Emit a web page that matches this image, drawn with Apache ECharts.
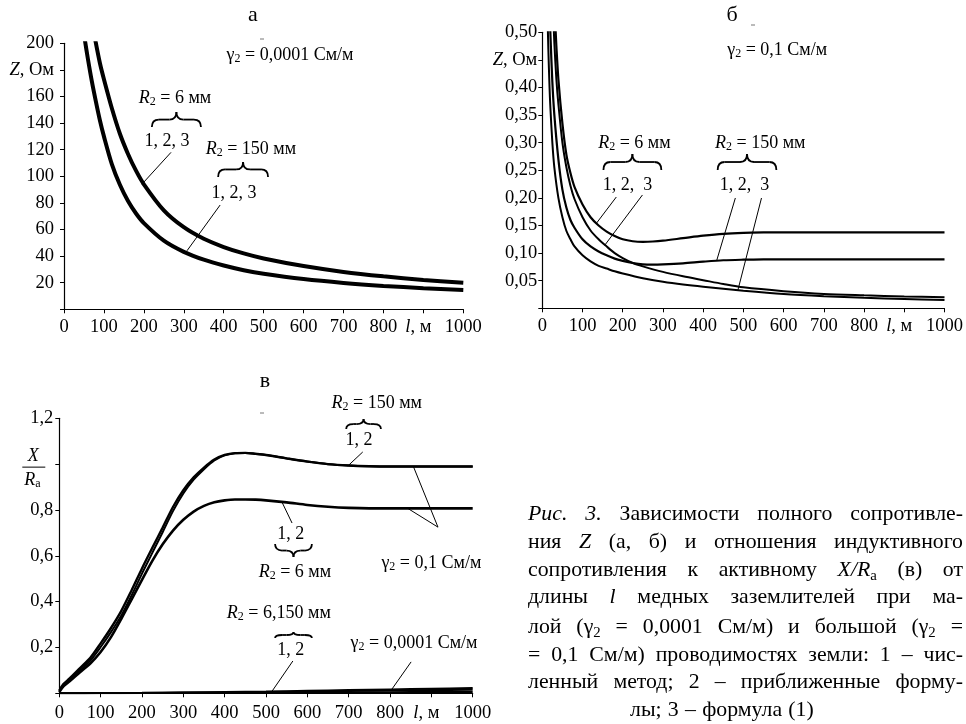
<!DOCTYPE html>
<html lang="ru"><head><meta charset="utf-8"><title>Рис. 3</title>
<script src="https://cdn.jsdelivr.net/npm/echarts@6.0.0/dist/echarts.min.js"></script>
<style>html,body{margin:0;padding:0;background:#fff;}#chart{width:966px;height:724px;}</style>
</head><body><div id="chart"></div>
<script>
// ================= DATA =================
const lengthTicks = [0, 100, 200, 300, 400, 500, 600, 700, 800, 900, 1000];

// (а) γ2 = 0,0001 См/м — Z, Ом (curves 1,2,3 coincide)
const aLenR6   = [78, 90, 100, 120, 140, 160, 180, 200, 250, 300, 350, 400, 450, 500, 600, 700, 800, 900, 1000];
const aZR6     = [203, 185, 173, 151, 132, 117, 104.4, 94, 74.4, 61.7, 53, 46.8, 42, 38.2, 32.5, 28.1, 24.8, 22.1, 20];
const aLenR150 = [52, 60, 70, 80, 90, 100, 120, 140, 160, 180, 200, 250, 300, 350, 400, 450, 500, 600, 700, 800, 900, 1000];
const aZR150   = [203, 188, 171, 156, 142, 130, 109, 93.6, 81.6, 72.2, 64.8, 51.6, 43.2, 37.3, 32.9, 29.4, 26.7, 22.7, 19.8, 17.6, 15.9, 14.5];

// (б) γ2 = 0,1 См/м — Z, Ом
const bLenR6num   = [32, 35, 40, 50, 60, 70, 80, 100, 120, 140, 160, 180, 200, 225, 250, 275, 300, 350, 400, 450, 500, 550, 600, 700, 800, 900, 1000];
const bZR6num     = [0.52, 0.475, 0.415, 0.335, 0.278, 0.245, 0.22, 0.188, 0.165, 0.150, 0.139, 0.131, 0.125, 0.1215, 0.1205, 0.121, 0.1225, 0.127, 0.1315, 0.135, 0.1368, 0.1375, 0.1377, 0.1377, 0.1377, 0.1377, 0.1377];
const bLenR6f1    = [27, 30, 35, 40, 50, 60, 70, 80, 100, 120, 140, 160, 180, 200, 225, 250, 300, 350, 400, 450, 500, 600, 700, 800, 900, 1000];
const bZR6f1      = [0.535, 0.48, 0.415, 0.37, 0.30, 0.255, 0.222, 0.198, 0.165, 0.141, 0.125, 0.112, 0.100, 0.091, 0.082, 0.076, 0.066, 0.058, 0.051, 0.044, 0.038, 0.031, 0.026, 0.0235, 0.0215, 0.020];
const bLenR150num = [19, 20, 25, 30, 40, 50, 60, 70, 80, 100, 120, 140, 160, 180, 200, 225, 250, 275, 300, 350, 400, 450, 500, 550, 600, 700, 800, 900, 1000];
const bZR150num   = [0.53, 0.50, 0.41, 0.35, 0.27, 0.215, 0.182, 0.16, 0.146, 0.125, 0.112, 0.103, 0.096, 0.090, 0.086, 0.082, 0.0795, 0.079, 0.0795, 0.0815, 0.0845, 0.087, 0.088, 0.0885, 0.0888, 0.0888, 0.0888, 0.0888, 0.0888];
const bLenR150f1  = [13, 15, 18, 20, 25, 30, 40, 50, 60, 70, 80, 100, 120, 140, 160, 180, 200, 250, 300, 350, 400, 500, 600, 700, 800, 900, 1000];
const bZR150f1    = [0.53, 0.47, 0.40, 0.365, 0.30, 0.255, 0.20, 0.165, 0.14, 0.125, 0.112, 0.096, 0.085, 0.077, 0.072, 0.067, 0.063, 0.0545, 0.048, 0.043, 0.039, 0.032, 0.026, 0.022, 0.019, 0.017, 0.015];

// (в) X/Ra
const vLen       = [0, 10, 25, 50, 75, 100, 125, 150, 175, 200, 225, 250, 275, 300, 325, 350, 375, 400, 425, 450, 475, 500, 550, 600, 650, 700, 750, 800, 900, 1000];
const vR150m1    = [0.012, 0.04, 0.065, 0.11, 0.155, 0.218, 0.285, 0.36, 0.45, 0.545, 0.635, 0.723, 0.813, 0.886, 0.942, 0.985, 1.02, 1.04, 1.048, 1.049, 1.045, 1.04, 1.025, 1.011, 1.0, 0.994, 0.991, 0.99, 0.99, 0.99];
const vR150m2    = [0.01, 0.035, 0.058, 0.1, 0.143, 0.202, 0.267, 0.34, 0.428, 0.522, 0.613, 0.703, 0.795, 0.872, 0.932, 0.978, 1.016, 1.038, 1.047, 1.049, 1.045, 1.04, 1.025, 1.011, 1.0, 0.994, 0.991, 0.99, 0.99, 0.99];
const vR6        = [0.005, 0.03, 0.052, 0.092, 0.13, 0.18, 0.245, 0.325, 0.41, 0.495, 0.578, 0.65, 0.71, 0.757, 0.793, 0.818, 0.834, 0.842, 0.846, 0.846, 0.845, 0.842, 0.833, 0.822, 0.814, 0.809, 0.807, 0.807, 0.807, 0.807];
const vLenLow    = [0, 100, 200, 300, 400, 500, 600, 700, 800, 900, 1000];
const vLowR150   = [0, 0.001, 0.002, 0.004, 0.006, 0.008, 0.011, 0.014, 0.017, 0.020, 0.023];
const vLowMid    = [0, 0.0008, 0.0016, 0.003, 0.004, 0.006, 0.008, 0.010, 0.012, 0.014, 0.016];
const vLowR6     = [0, 0.0004, 0.0008, 0.0015, 0.002, 0.003, 0.0035, 0.004, 0.005, 0.0055, 0.006];

// ================= CHART =================
const FONT = '"Liberation Serif", "Times New Roman", serif';
const chart = echarts.init(document.getElementById('chart'));
const zip = (xs, ys) => xs.map((x, i) => [x, ys[i]]);
const fmtComma = (v, d) => v.toFixed(d).replace('.', ',');
const labelRich = {
  i: {fontFamily: FONT, fontSize: 18.5, fontStyle: 'italic', color: '#000'},
  n: {fontFamily: FONT, fontSize: 18.5, color: '#000'},
  m: {fontFamily: FONT, fontSize: 18.5, color: '#000', padding: [0, 10, 0, 0]}
};
function axisBase(extra) {
  return Object.assign({
    type: 'value',
    axisLine: {show: true, onZero: false, lineStyle: {color: '#000', width: 1.2}},
    axisTick: {show: true, length: 4, lineStyle: {color: '#000', width: 1}},
    splitLine: {show: false}
  }, extra);
}
function xAxisFor(gi, margin) {
  return axisBase({
    gridIndex: gi, min: 0, max: 1000, interval: 100,
    axisLabel: {margin: margin, fontFamily: FONT, fontSize: 18.5, color: '#000', rich: labelRich,
      formatter: v => v === lengthTicks[9] ? '{i|l}{m|, м}' : String(v)}
  });
}
function line(gi, xs, ys, w) {
  return {type: 'line', xAxisIndex: gi, yAxisIndex: gi, data: zip(xs, ys), symbol: 'none', showSymbol: false,
    smooth: 0.3, silent: true, clip: true, lineStyle: {color: '#000', width: w}};
}

const option = {
  animation: false,
  backgroundColor: '#fff',
  grid: [
    {left: 64, top: 43.3, width: 399.3, height: 266},
    {left: 542.3, top: 32.3, width: 405, height: 276},
    {left: 59.3, top: 418.3, width: 413.4, height: 275}
  ],
  xAxis: [xAxisFor(0, 8), xAxisFor(1, 8), xAxisFor(2, 10)],
  yAxis: [
    axisBase({gridIndex: 0, min: 0, max: 200, interval: 20,
      axisLabel: {margin: 10, fontFamily: FONT, fontSize: 18.5, color: '#000', rich: labelRich,
        formatter: v => v === 0 ? '' : (v === 180 ? '{i|Z}{n|, Ом}' : String(v))}}),
    axisBase({gridIndex: 1, min: 0, max: 0.5, interval: 0.05,
      axisLabel: {margin: 5, fontFamily: FONT, fontSize: 18.5, color: '#000', rich: labelRich,
        formatter: v => v < 1e-9 ? '' : (Math.abs(v - 0.45) < 1e-6 ? '{i|Z}{n|, Ом}' : fmtComma(v, 2))}}),
    axisBase({gridIndex: 2, min: 0, max: 1.2, interval: 0.2,
      axisLabel: {margin: 6, fontFamily: FONT, fontSize: 18.5, color: '#000',
        formatter: v => (v < 1e-9 || Math.abs(v - 1) < 1e-6) ? '' : fmtComma(v, 1)}})
  ],
  series: [
    line(0, aLenR6, aZR6, 4),
    line(0, aLenR150, aZR150, 4),
    line(1, bLenR6num, bZR6num, 2.2),
    line(1, bLenR6f1, bZR6f1, 2),
    line(1, bLenR150num, bZR150num, 2.2),
    line(1, bLenR150f1, bZR150f1, 2),
    line(2, vLen, vR150m1, 2.4),
    line(2, vLen, vR150m2, 2),
    line(2, vLen, vR6, 2.6),
    line(2, vLenLow, vLowR150, 2),
    line(2, vLenLow, vLowMid, 2),
    line(2, vLenLow, vLowR6, 2)
  ]
};
chart.setOption(option);

// ================= ANNOTATIONS (anchored in data coordinates) =================
const annotations = [
  {grid: 0,
   texts: [['{n|γ}{s|2}{n| = 0,0001 См/м}', 566, 191], ['{i|R}{s|2}{n| = 6 мм}', 278, 159], ['{n|1, 2, 3}', 258, 126.5],
           ['{i|R}{s|2}{n| = 150 мм}', 468, 120.5], ['{n|1, 2, 3}', 426, 87.4]],
   braces: [[220, 343, 148.3, 137], [386, 511, 110.8, 99.5]],
   leaders: [[268, 118, 195, 94], [391, 78.4, 308, 44]]},
  {grid: 1,
   texts: [['{n|γ}{s|2}{n| = 0,1 См/м}', 584, 0.468], ['{i|R}{s|2}{n| = 6 мм}', 229, 0.2995], ['{n|1, 2,  3}', 212, 0.2234],
           ['{i|R}{s|2}{n| = 150 мм}', 542, 0.2995], ['{n|1, 2,  3}', 503, 0.2234]],
   braces: [[152, 296, 0.2795, 0.2505], [436, 582, 0.2795, 0.2505]],
   leaders: [[184, 0.2016, 135, 0.1545], [249, 0.2053, 155, 0.114], [480, 0.1998, 434, 0.0875], [545, 0.1998, 486, 0.032]]},
  {grid: 2,
   texts: [['{i|R}{s|2}{n| = 150 мм}', 768, 1.267], ['{n|1, 2}', 725, 1.106], ['{n|1, 2}', 560, 0.695],
           ['{i|R}{s|2}{n| = 6 мм}', 570, 0.529], ['{n|γ}{s|2}{n| = 0,1 См/м}', 900, 0.568],
           ['{i|R}{s|2}{n| = 6,150 мм}', 531, 0.349], ['{n|1, 2}', 560, 0.189], ['{n|γ}{s|2}{n| = 0,0001 См/м}', 858, 0.22]],
   braces: [[694, 778, 1.197, 1.153], [522, 611, 0.595, 0.651], [522, 611, 0.2675, 0.2413]],
   leaders: [[734, 1.053, 698, 0.992], [563, 0.743, 539, 0.833], [916, 0.725, 856, 0.992], [916, 0.725, 841, 0.809],
             [565, 0.141, 515, 0.01], [851, 0.137, 803, 0.014]]}
];

const RICH_T = {
  n: {fontFamily: FONT, fontSize: 18, fill: '#000'},
  i: {fontFamily: FONT, fontSize: 18, fontStyle: 'italic', fill: '#000'},
  s: {fontFamily: FONT, fontSize: 12, fill: '#000', padding: [8, 0, 0, 0]}
};
function textEl(x, y, text, extra) {
  return {type: 'text', x: x, y: y, silent: true,
    style: Object.assign({text: text, rich: RICH_T, align: 'center', verticalAlign: 'middle',
      textAlign: 'center', textVerticalAlign: 'middle', fill: '#000', fontFamily: FONT, fontSize: 18}, extra || {})};
}
function braceEls(x1, x2, yT, yE, lw) {
  const xm = (x1 + x2) / 2, ym = (yT + yE) / 2, r = Math.min(7, (x2 - x1) / 5);
  const st = {stroke: '#000', lineWidth: lw, fill: 'none'};
  const q = (ax, ay, cx, cy, bx, by) => ({type: 'bezierCurve', silent: true, shape: {x1: ax, y1: ay, cpx1: cx, cpy1: cy, x2: bx, y2: by}, style: st});
  const l = (ax, ay, bx, by) => ({type: 'line', silent: true, shape: {x1: ax, y1: ay, x2: bx, y2: by}, style: st});
  return [q(x1, yE, x1, ym, x1 + r, ym), l(x1 + r, ym, xm - r, ym), q(xm - r, ym, xm, ym, xm, yT),
          q(xm, yT, xm, ym, xm + r, ym), l(xm + r, ym, x2 - r, ym), q(x2 - r, ym, x2, ym, x2, yE)];
}

const elements = [];
annotations.forEach(a => {
  const P = (x, y) => chart.convertToPixel({gridIndex: a.grid}, [x, y]);
  a.texts.forEach(t => { const p = P(t[1], t[2]); elements.push(textEl(p[0], p[1], t[0])); });
  a.braces.forEach(b => {
    const p1 = P(b[0], b[2]), p2 = P(b[1], b[3]);
    braceEls(p1[0], p2[0], p1[1], p2[1], 1.8).forEach(e => elements.push(e));
  });
  a.leaders.forEach(d => {
    const p1 = P(d[0], d[1]), p2 = P(d[2], d[3]);
    elements.push({type: 'line', silent: true, shape: {x1: p1[0], y1: p1[1], x2: p2[0], y2: p2[1]}, style: {stroke: '#000', lineWidth: 1}});
  });
});

// Fraction X / Rа as the y-axis name of chart в (at value 1,0)
(function () {
  const p = chart.convertToPixel({gridIndex: 2}, [0, 1]);
  elements.push(textEl(p[0] - 26, p[1] - 8, '{i|X}'));
  elements.push({type: 'line', silent: true, shape: {x1: p[0] - 37, y1: p[1] + 3, x2: p[0] - 14, y2: p[1] + 3}, style: {stroke: '#000', lineWidth: 1}});
  elements.push(textEl(p[0] - 27, p[1] + 16, '{i|R}{s|а}'));
})();

// Panel titles
elements.push(textEl(253, 15, 'а', {fontSize: 22, rich: null}));
elements.push(textEl(732, 15, 'б', {fontSize: 22, rich: null}));
elements.push(textEl(265, 381, 'в', {fontSize: 22, rich: null}));
// small scan marks near titles
[[260, 39], [751, 25], [260, 413]].forEach(m => elements.push({type: 'line', silent: true,
  shape: {x1: m[0], y1: m[1], x2: m[0] + 4, y2: m[1]}, style: {stroke: '#777', lineWidth: 1}}));

// ================= CAPTION (justified) =================
const captionLines = [
  '*Рис.* *3.* Зависимости полного сопротивле-',
  'ния *Z* (а, б) и отношения индуктивного',
  'сопротивления к активному *X/R*_а_ (в) от',
  'длины *l* медных заземлителей при ма-',
  'лой (γ_2_ = 0,0001 См/м) и большой (γ_2_ =',
  '= 0,1 См/м) проводимостях земли: 1 – чис-',
  'ленный метод; 2 – приближенные форму-',
  'лы; 3 – формула (1)'
];
(function () {
  const X0 = 528, W = 435, ys = [514, 542, 570, 597, 627, 655, 682, 710], lastX = 630;
  const ctx = document.createElement('canvas').getContext('2d');
  const parse = w => {
    const segs = []; let it = false, sb = false, buf = '';
    for (const ch of w) {
      if (ch === '*' || ch === '_') { if (buf) { segs.push({t: buf, it, sb}); buf = ''; } if (ch === '*') it = !it; else sb = !sb; }
      else buf += ch;
    }
    if (buf) segs.push({t: buf, it, sb});
    return segs;
  };
  const fontOf = (seg, fs) => (seg.it ? 'italic ' : '') + (seg.sb ? fs * 0.68 : fs) + 'px "Liberation Serif"';
  const mw = (seg, fs) => { ctx.font = fontOf(seg, fs); return ctx.measureText(seg.t).width; };
  const words = captionLines.map(l => l.split(' ').map(parse));
  const wordW = (w, fs) => w.reduce((s, g) => s + mw(g, fs), 0);
  let fs = 21.8;
  // keep every justified line's word gap at least 0.55 of a normal space
  for (let k = 0; k < 30; k++) {
    ctx.font = fs + 'px "Liberation Serif"';
    const sp = ctx.measureText(' ').width;
    let ok = true;
    words.slice(0, 7).forEach(ws => {
      const tot = ws.reduce((s, w) => s + wordW(w, fs), 0);
      if ((W - tot) / (ws.length - 1) < sp * 0.55) ok = false;
    });
    if (ok) break;
    fs -= 0.1;
  }
  ctx.font = fs + 'px "Liberation Serif"';
  const space = ctx.measureText(' ').width;
  words.forEach((ws, li) => {
    const total = ws.reduce((s, w) => s + wordW(w, fs), 0);
    const last = li === words.length - 1;
    const gap = last ? space * 1.15 : (W - total) / (ws.length - 1);
    let x = last ? lastX : X0;
    ws.forEach(w => {
      w.forEach(g => {
        const size = g.sb ? fs * 0.68 : fs;
        elements.push({type: 'text', x: x, y: ys[li] + (g.sb ? fs * 0.28 : 0), silent: true,
          style: {text: g.t, fill: '#000', fontFamily: FONT, fontSize: size, fontStyle: g.it ? 'italic' : 'normal',
            align: 'left', verticalAlign: 'middle', textAlign: 'left', textVerticalAlign: 'middle'}});
        x += mw(g, fs);
      });
      x += gap;
    });
  });
})();

chart.setOption({graphic: {elements: elements}});
</script>
</body></html>
